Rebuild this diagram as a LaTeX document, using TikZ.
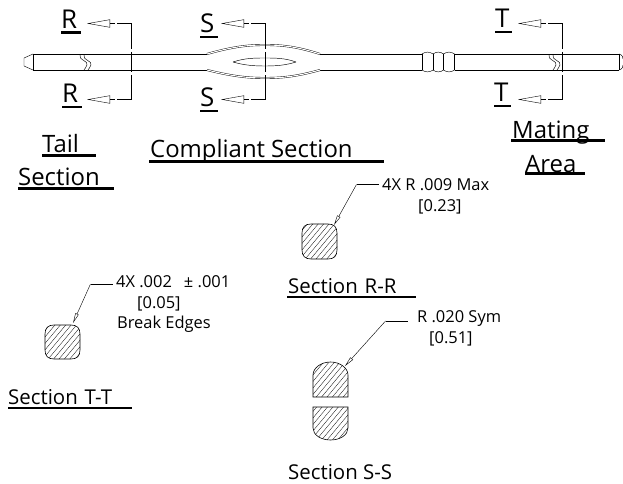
\documentclass[tikz,border=0pt]{standalone}
\usepackage{fontspec}
\setmainfont{Open Sans}
\usetikzlibrary{arrows.meta}
\tikzset{
    pinline/.style={line width=0.9bp},
    thinline/.style={line width=0.45bp},
    doubleline/.style={line width=0.4bp, double, double distance=1.1bp},
    cutline/.style={line width=0.8bp},
    cuthead/.style={line width=0.4bp, -{Triangle[open, fill=white, length=23bp, width=8bp]}},
    leader/.style={line width=0.4bp, -{Triangle[open, fill=white, length=10bp, width=3.5bp]}},
    leaderbar/.style={line width=0.8bp},
    outline/.style={draw, line width=0.6bp},
    hatchline/.style={line width=0.3bp},
    ulabel/.style={anchor=south west, inner sep=0pt, align=left, font=\fontsize{24}{26}\selectfont, text depth=2.5bp,
        append after command={(\tikzlastnode.south west) edge[line width=2.2bp] (\tikzlastnode.south east)}},
    seclabel/.style={ulabel, font=\fontsize{20.5}{22}\selectfont, text depth=3bp},
    marklabel/.style={ulabel, font=\fontsize{26}{28}\selectfont, text depth=4bp},
    note/.style={anchor=base west, inner sep=0pt, font=\fontsize{16.5}{18}\selectfont},
}
% hatch inside a closed path: path, first x, bottom y
\newcommand{\sechatch}[3]{
    \begin{scope}
        \clip #1;
        \foreach \hx in {0,5.4,...,90} {
            \draw[hatchline] (#2+\hx,#3) -- (#2+\hx+50,#3-60);
        }
    \end{scope}
    \draw[outline] #1;
}
\begin{document}
\begin{tikzpicture}[x=1bp, y=-1bp]
    \useasboundingbox (0,0) rectangle (623,484);
    % pin
    \draw[pinline] (33,54) -- (207,54);
    \draw[pinline] (33,70) -- (207,70);
    \draw[pinline] (33,54) -- (33,70);
    \draw[thinline] (33,54) -- (24,58) -- (24,66) -- (33,70);
    \draw[pinline] (320,54) -- (422,54);
    \draw[pinline] (320,70) -- (422,70);
    \draw[pinline] (454.5,54) -- (619,54);
    \draw[pinline] (454.5,70) -- (619,70);
    \draw[pinline] (619,54) -- (619,70);
    \draw[thinline] (619,54) .. controls (623,55) and (623,58) .. (623,59);
    \draw[thinline] (619,70) .. controls (623,69) and (623,66) .. (623,65);
    % compliant section
    \draw[doubleline] (207,54) .. controls (235,46) and (250,45) .. (265,45) .. controls (280,45) and (295,46) .. (320,54);
    \draw[doubleline] (207,70) .. controls (235,77) and (250,78) .. (265,78) .. controls (280,78) and (295,77) .. (320,70);
    \draw[thinline] (233,62) .. controls (245,58) and (255,58) .. (265,58) .. controls (275,58) and (285,58) .. (296,62);
    \draw[thinline] (233,62) .. controls (245,65.5) and (255,66) .. (265,66) .. controls (275,66) and (285,65.5) .. (296,62);
    % bumps
    \foreach \xa/\xb in {422/433, 433/443.5, 443.5/454.5} {
        \draw[thinline] (\xa,54) -- (\xa,70);
        \draw[thinline] (\xa,54) .. controls (\xa+3,51.5) and (\xb-3,51.5) .. (\xb,54);
        \draw[thinline] (\xa,70) .. controls (\xa+3,72.5) and (\xb-3,72.5) .. (\xb,70);
    }
    \draw[thinline] (454.5,54) -- (454.5,70);
    % breaks
    \foreach \xb in {0,4} {
        \draw[thinline] (80+\xb,55) .. controls (78+\xb,60) and (89+\xb,61) .. (87+\xb,65) .. controls (86+\xb,67) and (85+\xb,69) .. (84+\xb,70);
        \draw[thinline] (549+\xb,55) .. controls (547+\xb,60) and (558+\xb,61) .. (556+\xb,65) .. controls (555+\xb,67) and (554+\xb,69) .. (553+\xb,70);
    }
    % cutting planes
    \foreach \nm/\x in {R/131.5, S/265.5, T/562.5} {
        \coordinate (\nm top) at (\x,23.5);
        \coordinate (\nm bot) at (\x,99.5);
        \draw[cutline] (\nm top) -- (\x,49);
        \draw[cutline] (\x,52) -- (\x,72);
        \draw[cutline] (\x,75.5) -- (\nm bot);
        \draw[cutline] (\nm top) -- (\x-15,23.5);
        \draw[cutline] (\nm bot) -- (\x-15,99.5);
        \draw[cuthead] (\x-17,23.5) -- (\x-44.5,23.5);
        \draw[cuthead] (\x-17,99.5) -- (\x-44.5,99.5);
    }
    \node[marklabel, text width=20bp] (Rtop) at (61,32.5) {R};
    \node[marklabel, text width=20bp] (Rbot) at (62,107) {R};
    \node[marklabel, text width=18bp] (Stop) at (200,37) {S};
    \node[marklabel, text width=18bp] (Sbot) at (200,111) {S};
    \node[marklabel, text width=17bp] (Ttop) at (495,32) {T};
    \node[marklabel, text width=17bp] (Tbot) at (494,106) {T};
    % zone titles
    \node[ulabel, text width=54bp] (tail) at (42,155.5) {Tail};
    \node[ulabel, text width=96bp] (tailsec) at (18,188.5) {Section};
    \node[ulabel, text width=235bp, text depth=3.5bp] (compliant) at (149,161.5) {\hspace{1bp}Compliant\hspace{-2bp} Section};
    \node[ulabel, text width=94bp, text depth=2bp] (mating) at (511,140.5) {\hspace{1bp}Mating};
    \node[ulabel, text width=60bp, text depth=1bp] (area) at (525,173.5) {Area};
    % section R-R
    \sechatch{(311,224) -- (328,224) .. controls (334,224) and (337,227) .. (337,233) -- (337,250) .. controls (337,256) and (334,259) .. (328,259) -- (311,259) .. controls (305,259) and (302,256) .. (302,250) -- (302,233) .. controls (302,227) and (305,224) .. (311,224) -- cycle}{262}{259}
    \coordinate (Rknee) at (356.5,184.5);
    \coordinate (Rtip) at (334,225);
    \node[note] (Rnote) at (382,191) {4X R .009 Max};
    \node[note] (Rmm) at (418,212) {[0.23]};
    \draw[leader] (Rknee) -- (Rtip);
    \draw[leaderbar] (Rknee) -- (379,184.5);
    \node[seclabel, text width=129bp] (secR) at (287,297) {\hspace{1bp}Section R-R};
    % section T-T
    \sechatch{(54,325) -- (71,325) .. controls (77,325) and (80,328) .. (80,334) -- (80,350) .. controls (80,356) and (77,359) .. (71,359) -- (54,359) .. controls (48,359) and (45,356) .. (45,350) -- (45,334) .. controls (45,328) and (48,325) .. (54,325) -- cycle}{5}{359}
    \coordinate (Tknee) at (90.5,284);
    \coordinate (Ttip) at (73,323);
    \node[note] (Tnote) at (116,287) {4X .002 \hspace{3.5bp}\ ± .001};
    \node[note] (Tmm) at (137,308) {[0.05]};
    \node[note] (Tedge) at (117,328) {Break Edges};
    \draw[leader] (Tknee) -- (Ttip);
    \draw[leaderbar] (Tknee) -- (113,284);
    \node[seclabel, text width=124bp] (secT) at (8,408) {Section T-T};
    % section S-S
    \sechatch{(313,397) -- (313,375) .. controls (313,368) and (321,362) .. (330.5,362) .. controls (340,362) and (348,368) .. (348,375) -- (348,397) -- cycle}{273}{397}
    \sechatch{(313,407) -- (313,428) .. controls (313,435) and (321,440) .. (330.5,440) .. controls (340,440) and (348,435) .. (348,428) -- (348,407) -- cycle}{273}{440}
    \coordinate (Sknee) at (385.5,321);
    \coordinate (Stip) at (345,366);
    \node[note] (Snote) at (417,322) {R .020 Sym};
    \node[note] (Smm) at (429,343) {[0.51]};
    \draw[leader] (Sknee) -- (Stip);
    \draw[leaderbar] (Sknee) -- (408,321);
    \node[anchor=base west, inner sep=0pt, font=\fontsize{20.5}{22}\selectfont] (secS) at (288,479) {Section S-S};
\end{tikzpicture}
\end{document}
